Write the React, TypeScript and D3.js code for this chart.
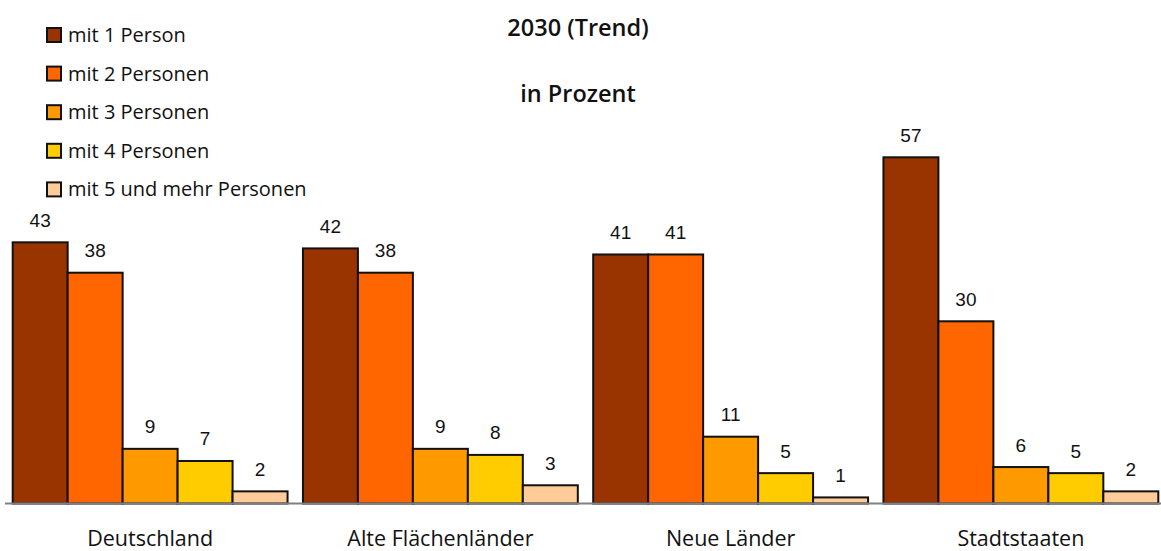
import React from "react";
import * as d3 from "d3";

const categories = ["Deutschland", "Alte Flächenländer", "Neue Länder", "Stadtstaaten"];
const seriesNames = ["mit 1 Person", "mit 2 Personen", "mit 3 Personen", "mit 4 Personen", "mit 5 und mehr Personen"];
const seriesColors = ["#993300", "#FF6600", "#FF9900", "#FFCC00", "#FFCC99"];
const p1 = [43, 42, 41, 57];
const p2 = [38, 38, 41, 30];
const p3 = [9, 9, 11, 6];
const p4 = [7, 8, 5, 5];
const p5 = [2, 3, 1, 2];
const seriesValues = [p1, p2, p3, p4, p5];
const titleLines = ["2030 (Trend)", "in Prozent"];

const W = 1161;
const H = 551;
const labelFont = "'Open Sans', 'Noto Sans', sans-serif";
const numFont = "'Liberation Sans', Arial, sans-serif";

export default function App() {
  const x0 = d3.scaleBand<string>().domain(categories).range([5, 1166]).paddingInner(0.053).paddingOuter(0.0265);
  const x1 = d3.scaleBand<number>().domain(d3.range(seriesNames.length)).range([0, x0.bandwidth()]);
  const y = d3.scaleLinear().domain([0, 57]).range([503.5, 157.3]);

  return (
    <svg width={W} height={H} style={{ position: "absolute", left: 0, top: 0, background: "#fff" }}>
      {titleLines.map((t, i) => (
        <text key={t} x={578} y={35.5 + i * 66} textAnchor="middle" fontFamily={labelFont} fontWeight={600} fontSize={23.5} fill="#111">
          {t}
        </text>
      ))}
      {seriesNames.map((s, i) => (
        <g key={s} transform={`translate(47, ${28 + i * 38.6})`}>
          <rect x={0} y={0} width={14} height={14} fill={seriesColors[i]} stroke="#111" strokeWidth={2} />
          <text x={21} y={14} fontFamily={labelFont} fontSize={20} fill="#111">{s}</text>
        </g>
      ))}
      {categories.map((c, ci) => (
        <g key={c} transform={`translate(${x0(c)}, 0)`}>
          {seriesValues.map((vals, si) => {
            const v = vals[ci];
            const bx = x1(si)!;
            const bw = x1.bandwidth();
            return (
              <g key={si}>
                <rect x={bx} y={y(v)} width={bw} height={y(0) - y(v)} fill={seriesColors[si]} stroke="#111" strokeWidth={2} />
                <text x={bx + bw / 2} y={y(v) - 15.5} textAnchor="middle" fontFamily={numFont} fontSize={19} fill="#111">{v}</text>
              </g>
            );
          })}
          <text x={x0.bandwidth() / 2} y={545.5} textAnchor="middle" fontFamily={labelFont} fontSize={21.5} fill="#111">{c}</text>
        </g>
      ))}
      <line x1={5} x2={W} y1={y(0)} y2={y(0)} stroke="#808080" strokeWidth={2} />
    </svg>
  );
}
